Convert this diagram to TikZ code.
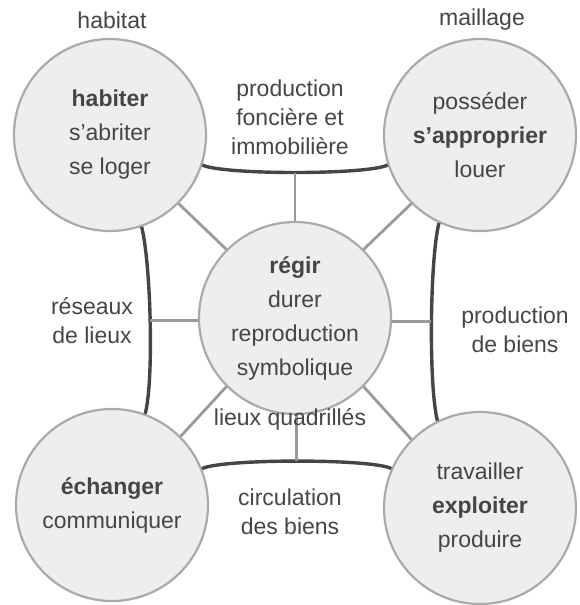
\documentclass[tikz,border=0pt]{standalone}
\usepackage{fontspec}
\setmainfont{Liberation Sans}
\definecolor{cfill}{HTML}{F0EDEE}
\definecolor{cedge}{HTML}{AAAAAA}
\definecolor{linkc}{HTML}{454545}
\definecolor{spokec}{HTML}{9A9A9A}
\definecolor{txtc}{HTML}{454545}
\tikzset{
  circ/.style={circle, draw=cedge, line width=2.2pt, fill=cfill, minimum size=192pt, inner sep=0pt, align=center, text=txtc, font=\fontsize{23}{34}\selectfont},
  lbl/.style={align=center, text=txtc, inner sep=0pt, font=\fontsize{23}{29}\selectfont},
  link/.style={draw=linkc, line width=3.4pt},
  spoke/.style={draw=spokec, line width=2.8pt}
}
\begin{document}
\begin{tikzpicture}[x=1pt,y=-1pt]
\useasboundingbox (0,0) rectangle (579,605);
% circles
\node[circ] (tl) at (110,135) {\textbf{habiter}\\s'abriter\\se loger};
\node[circ] (tr) at (480,135) {posséder\\\textbf{s'approprier}\\louer};
\node[circ] (bl) at (112,505) {\textbf{échanger}\\communiquer};
\node[circ] (br) at (480,508) {travailler\\\textbf{exploiter}\\produire};
\node[circ] (c) at (295,318) {\textbf{régir}\\durer\\reproduction\\symbolique};
% links between corner circles
\draw[link] (tl.-18) .. controls +(20,10) and +(-20,10) .. coordinate[pos=0.5] (tm) (tr.-162);
\draw[link] (bl.22) .. controls +(20,-10) and +(-20,-10) .. coordinate[pos=0.5] (bm) (br.156);
\draw[link] (tl.-71) .. controls +(9,35) and +(9,-35) .. coordinate[pos=0.5] (lm) (bl.70);
\draw[link] (tr.-115) .. controls +(-9,35) and +(-9,-35) .. coordinate[pos=0.5] (rm) (br.116);
% spokes
\draw[spoke] (tm) -- (tm |- c.north);
\draw[spoke] (bm) -- (bm |- c.south);
\draw[spoke] (lm) -- (c.west |- lm);
\draw[spoke] (rm) -- (c.east |- rm);
\draw[spoke] (c.135) -- (tl.-45);
\draw[spoke] (c.45) -- (tr.-135);
\draw[spoke] (c.-135) -- (bl.45);
\draw[spoke] (c.-45) -- (br.135);
% labels
\node[lbl] (lhab) at (112,20) {habitat};
\node[lbl] (lmai) at (482,20) {maillage};
\node[lbl] (ltop) at (290,117) {production\\foncière et\\immobilière};
\node[lbl] (lleft) at (92,321) {réseaux\\de lieux};
\node[lbl] (lright) at (515,330) {production\\de biens};
\node[lbl] (lbot) at (290,512) {circulation\\des biens};
\node[lbl] (lmid) at (290,419) {lieux quadrillés};
\end{tikzpicture}
\end{document}
